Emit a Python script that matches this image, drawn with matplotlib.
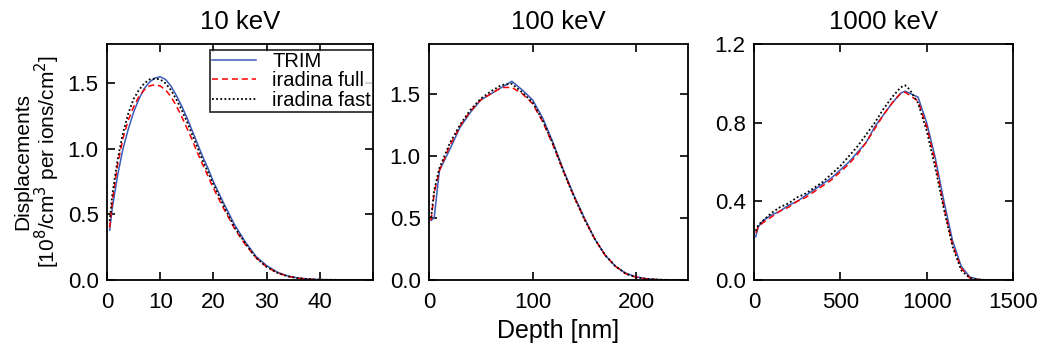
import numpy as np
import matplotlib
matplotlib.use("Agg")
import matplotlib.pyplot as plt

plt.rcParams['font.family'] = ['Liberation Sans', 'DejaVu Sans']

# 10 keV
x10 = [0.5, 1, 2, 3, 4, 5, 6, 7, 8, 9, 10, 11, 12, 13, 14, 15, 16, 17, 18, 19, 20,
       22, 24, 26, 28, 30, 32, 34, 36, 38, 40, 45, 50]
trim10 = [0.38, 0.55, 0.80, 1.00, 1.15, 1.28, 1.38, 1.46, 1.51, 1.54, 1.55, 1.53, 1.48,
          1.41, 1.33, 1.24, 1.14, 1.04, 0.94, 0.85, 0.75, 0.58, 0.42, 0.29, 0.18, 0.11,
          0.06, 0.03, 0.015, 0.007, 0.003, 0.001, 0.0]
full10 = [0.40, 0.60, 0.88, 1.08, 1.22, 1.32, 1.40, 1.45, 1.48, 1.49, 1.48, 1.45, 1.40,
          1.33, 1.25, 1.16, 1.07, 0.97, 0.88, 0.79, 0.70, 0.54, 0.39, 0.27, 0.17, 0.10,
          0.055, 0.028, 0.013, 0.006, 0.002, 0.0005, 0.0]
fast10 = [0.45, 0.65, 0.92, 1.12, 1.27, 1.38, 1.45, 1.50, 1.53, 1.535, 1.53, 1.50, 1.45,
          1.38, 1.30, 1.21, 1.11, 1.01, 0.91, 0.82, 0.73, 0.56, 0.40, 0.28, 0.17, 0.10,
          0.055, 0.028, 0.013, 0.006, 0.002, 0.0005, 0.0]

# 100 keV
x100 = [2, 5, 10, 20, 30, 40, 50, 60, 70, 80, 90, 100, 110, 120, 130, 140, 150, 160,
        170, 180, 190, 200, 210, 220, 230, 250]
trim100 = [0.48, 0.50, 0.88, 1.05, 1.23, 1.35, 1.45, 1.50, 1.55, 1.60, 1.53, 1.45, 1.30,
           1.10, 0.88, 0.68, 0.50, 0.33, 0.20, 0.11, 0.055, 0.025, 0.01, 0.004, 0.001, 0.0]
full100 = [0.48, 0.70, 0.88, 1.08, 1.24, 1.36, 1.45, 1.50, 1.55, 1.55, 1.50, 1.42, 1.27,
           1.08, 0.87, 0.67, 0.49, 0.33, 0.20, 0.11, 0.05, 0.022, 0.008, 0.003, 0.001, 0.0]
fast100 = [0.50, 0.72, 0.90, 1.10, 1.25, 1.37, 1.46, 1.52, 1.57, 1.58, 1.51, 1.43, 1.28,
           1.09, 0.87, 0.67, 0.49, 0.33, 0.20, 0.11, 0.05, 0.022, 0.008, 0.003, 0.001, 0.0]

# 1000 keV
x1000 = [10, 25, 50, 100, 150, 200, 250, 300, 350, 400, 450, 500, 550, 600, 650, 700,
         750, 800, 850, 875, 900, 950, 1000, 1050, 1100, 1150, 1200, 1250, 1300, 1350, 1500]
trim1000 = [0.22, 0.27, 0.30, 0.33, 0.35, 0.38, 0.40, 0.43, 0.46, 0.49, 0.52, 0.56, 0.60,
            0.65, 0.70, 0.78, 0.84, 0.90, 0.95, 0.96, 0.95, 0.93, 0.80, 0.62, 0.40, 0.20,
            0.07, 0.015, 0.003, 0.0, 0.0]
full1000 = [0.24, 0.27, 0.29, 0.32, 0.35, 0.37, 0.40, 0.42, 0.45, 0.48, 0.51, 0.55, 0.59,
            0.64, 0.70, 0.77, 0.84, 0.90, 0.95, 0.955, 0.94, 0.91, 0.78, 0.60, 0.37, 0.18,
            0.06, 0.01, 0.002, 0.0, 0.0]
fast1000 = [0.25, 0.28, 0.30, 0.34, 0.37, 0.39, 0.42, 0.44, 0.47, 0.50, 0.54, 0.58, 0.63,
            0.68, 0.74, 0.80, 0.87, 0.93, 0.98, 0.99, 0.97, 0.90, 0.76, 0.57, 0.36, 0.17,
            0.05, 0.01, 0.002, 0.0, 0.0]

titles = ["10 keV", "100 keV", "1000 keV"]
W, H = 1046, 354
fig = plt.figure(figsize=(W / 100, H / 100), dpi=100)

boxes = [(107, 373), (429, 688), (754, 1013)]
top, bottom = 44, 280
panels = [
    (x10, trim10, full10, fast10, (0, 50), (0, 1.8), [0, 10, 20, 30, 40, 50], ["0", "10", "20", "30", "40", ""], [0, 0.5, 1.0, 1.5]),
    (x100, trim100, full100, fast100, (0, 250), (0, 1.9), [0, 100, 200], ["0", "100", "200"], [0, 0.5, 1.0, 1.5]),
    (x1000, trim1000, full1000, fast1000, (0, 1500), (0, 1.2), [0, 500, 1000, 1500], ["0", "500", "1000", "1500"], [0, 0.4, 0.8, 1.2]),
]

axes = []
for (l, r), p, t in zip(boxes, panels, titles):
    ax = fig.add_axes([l / W, 1 - bottom / H, (r - l) / W, (bottom - top) / H])
    x, a, b, c, xl, yl, xt, xtl, yt = p
    ax.plot(x, a, color="#3a5bb8", lw=1.1, label="TRIM")
    ax.plot(x, b, color="red", lw=1.1, ls=(0, (4, 2.5)), label="iradina full")
    ax.plot(x, c, color="black", lw=1.3, ls=(0, (1, 1.3)), label="iradina fast")
    ax.set_xlim(xl)
    ax.set_ylim(yl)
    ax.set_xticks(xt)
    ax.set_xticklabels(xtl)
    ax.set_yticks(yt)
    ax.set_yticklabels(["%.1f" % v for v in yt])
    ax.tick_params(direction="in", top=True, right=True, length=6, width=1.2,
                   labelsize=16, pad=6)
    ax.tick_params(axis="x", pad=9)
    for s in ax.spines.values():
        s.set_linewidth(1.3)
    ax.set_title(t, fontsize=18.5, pad=11)
    axes.append(ax)

leg = axes[0].legend(loc="upper right", bbox_to_anchor=(1.0, 0.975), fontsize=14.5,
                     frameon=True, fancybox=False, edgecolor="black", borderpad=0.1,
                     labelspacing=0.02, handlelength=2.2, handletextpad=0.8,
                     borderaxespad=0.0)
leg.get_frame().set_linewidth(1.3)

axes[0].set_ylabel("Displacements\n[10$^8$/cm$^3$ per ions/cm$^2$]", fontsize=15,
                   linespacing=1.05, labelpad=4)
axes[1].set_xlabel("Depth [nm]", fontsize=18, labelpad=4)

fig.savefig("out.png", dpi=100)
